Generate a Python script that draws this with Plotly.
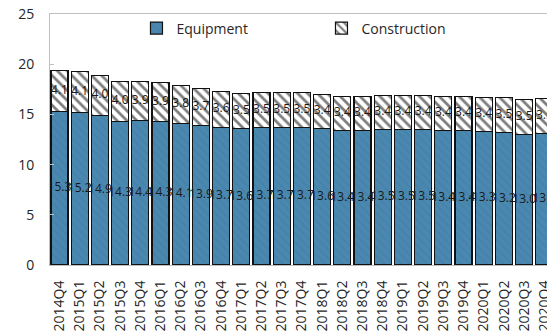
import plotly.graph_objects as go

quarters = [
    "2014Q4", "2015Q1", "2015Q2", "2015Q3", "2015Q4",
    "2016Q1", "2016Q2", "2016Q3", "2016Q4",
    "2017Q1", "2017Q2", "2017Q3", "2017Q4",
    "2018Q1", "2018Q2", "2018Q3", "2018Q4",
    "2019Q1", "2019Q2", "2019Q3", "2019Q4",
    "2020Q1", "2020Q2", "2020Q3", "2020Q4",
]
equipment = [15.3, 15.2, 14.9, 14.3, 14.4, 14.3, 14.1, 13.9, 13.7, 13.6, 13.7, 13.7, 13.7,
             13.6, 13.4, 13.4, 13.5, 13.5, 13.5, 13.4, 13.4, 13.3, 13.2, 13.0, 13.1]
construction = [4.1, 4.1, 4.0, 4.0, 3.9, 3.9, 3.8, 3.7, 3.6, 3.5, 3.5, 3.5, 3.5,
                3.4, 3.4, 3.4, 3.4, 3.4, 3.4, 3.4, 3.4, 3.4, 3.5, 3.5, 3.5]
y_ticks = [0, 5, 10, 15, 20, 25]

FONT = "Open Sans"
BLUE = "#4a88b0"

fig = go.Figure()

fig.add_trace(go.Bar(
    x=quarters, y=equipment, name="Equipment",
    marker=dict(
        color=BLUE,
        line=dict(color="#111111", width=1.2),
        pattern=dict(shape="\\", fgcolor="#3f7ca4", bgcolor=BLUE, size=6, solidity=0.3),
    ),
    hoverinfo="skip",
))
fig.add_trace(go.Bar(
    x=quarters, y=construction, name="Construction",
    marker=dict(
        color="white",
        line=dict(color="#111111", width=1.2),
        pattern=dict(shape="\\", fgcolor="#000000", bgcolor="white", size=7, solidity=0.4),
    ),
    hoverinfo="skip",
))

# value labels centred in each segment
fig.add_trace(go.Scatter(
    x=quarters, y=[e / 2 for e in equipment],
    text=[f"{e:.1f}" for e in equipment],
    mode="text", textposition="middle center",
    textfont=dict(family=FONT, size=12, color="#1a1a1a"),
    showlegend=False, hoverinfo="skip", cliponaxis=False,
))
fig.add_trace(go.Scatter(
    x=quarters, y=[e + c / 2 for e, c in zip(equipment, construction)],
    text=[f"{c:.1f}" for c in construction],
    mode="text", textposition="middle center",
    textfont=dict(family=FONT, size=12, color="#1a1a1a"),
    showlegend=False, hoverinfo="skip", cliponaxis=False,
))

fig.update_layout(
    width=547, height=331,
    barmode="stack", bargap=0.16,
    margin=dict(l=50, r=0, t=14, b=66),
    paper_bgcolor="white", plot_bgcolor="white",
    font=dict(family=FONT, size=14, color="#262626"),
    legend=dict(
        orientation="h", x=0.174, y=1.006, xanchor="left", yanchor="top",
        entrywidth=140, entrywidthmode="pixels",
        font=dict(family=FONT, size=14, color="#262626"),
        bgcolor="rgba(0,0,0,0)", traceorder="normal",
    ),
    xaxis=dict(
        type="category", range=[-0.47, 24.13], automargin=False,
        tickangle=-90, showgrid=False, ticks="",
        showline=True, linecolor="#c0c0c0", linewidth=1, mirror=True,
        tickfont=dict(family=FONT, size=14, color="#262626"),
        ticklabelstandoff=9,
    ),
    yaxis=dict(
        range=[0, 25], tickvals=y_ticks, showgrid=False, zeroline=False,
        automargin=False,
        ticks="inside", ticklen=4, tickcolor="#c0c0c0",
        showline=True, linecolor="#c0c0c0", linewidth=1, mirror=True,
        tickfont=dict(family=FONT, size=14, color="#262626"),
        ticklabelstandoff=12,
    ),
)

fig.write_html("out.html")
